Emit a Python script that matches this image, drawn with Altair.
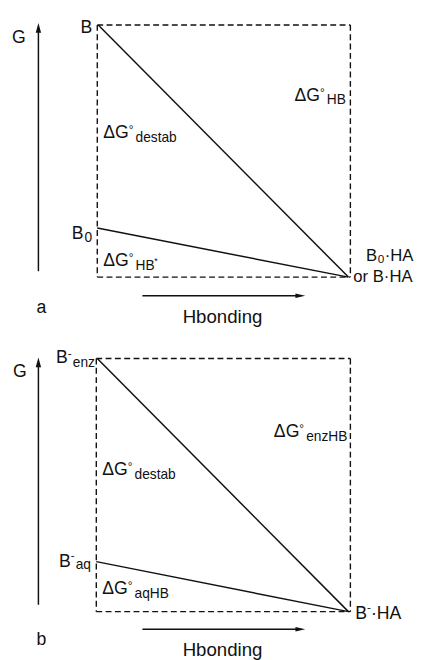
import altair as alt
import pandas as pd

# ---- diagram geometry (picture coordinates, y downward) ----
panel = ["a", "b"]
box_left = [99, 98]
box_top = [19, 359]
box_right = [357, 357]
box_bottom = [276, 617]
high_level = [19, 359]      # B / B-enz
low_level = [226, 566]      # B0 / B-aq
end_x = [355, 355]
g_axis_x = [39, 39]
g_axis_bottom = [270, 610]
g_axis_tip = [17, 358]
hb_axis_y = [295, 635]
hb_axis_x0 = [145, 145]
hb_axis_tip = [312, 312]

# ---- labels: text, x, baseline y, font size ----
lab_text = [
    "G", "B", "ΔG", "°", "destab", "B", "0", "ΔG", "°", "HB", "*",
    "ΔG", "°", "HB", "B", "0", "·HA", "or B·HA", "a", "Hbonding",
    "G", "B", "-", "enz", "ΔG", "°", "destab", "B", "-", "aq", "ΔG", "°", "aqHB",
    "ΔG", "°", "enzHB", "B", "-", "·HA", "b", "Hbonding",
]
lab_x = [
    12, 82, 105, 131, 138, 73, 86, 105, 131, 138, 157,
    300, 326, 333, 373, 385, 392, 360, 37, 186,
    13, 57, 69, 74, 104, 130, 137, 60, 72, 77, 104, 130, 137,
    279, 305, 312, 362, 374, 378, 37, 186,
]
lab_y = [
    37, 27, 134, 129, 138, 237, 240, 265, 260, 269, 263,
    96, 91, 100, 260, 262, 260, 281, 313, 323,
    378, 364, 357, 368, 478, 473, 482, 571, 563, 574, 599, 594, 603,
    439, 434, 443, 624, 616, 624, 651, 662,
]
lab_size = [
    18, 18, 18, 12, 14, 18, 14, 18, 12, 14, 9,
    18, 12, 14, 17, 12, 17, 17, 18, 19,
    18, 18, 12, 14, 18, 12, 14, 18, 12, 14, 18, 12, 14,
    18, 12, 14, 18, 12, 18, 18, 19,
]

# ---- build tables ----
dash_rows, solid_rows, head_up, head_right = [], [], [], []
for i in range(2):
    L, T, R, B = box_left[i], box_top[i], box_right[i], box_bottom[i]
    dash_rows += [
        dict(x=L, y=T, x2=R, y2=T), dict(x=L, y=T, x2=L, y2=B),
        dict(x=R, y=T, x2=R, y2=B), dict(x=L, y=B, x2=R, y2=B),
    ]
    solid_rows += [
        dict(x=L + 1, y=high_level[i], x2=end_x[i], y2=B),
        dict(x=L, y=low_level[i], x2=end_x[i], y2=B),
        dict(x=g_axis_x[i], y=g_axis_bottom[i], x2=g_axis_x[i], y2=g_axis_tip[i] + 6),
        dict(x=hb_axis_x0[i], y=hb_axis_y[i], x2=hb_axis_tip[i] - 8, y2=hb_axis_y[i]),
    ]
    head_up.append(dict(x=g_axis_x[i], y=g_axis_tip[i] + 5))
    head_right.append(dict(x=hb_axis_tip[i] - 6, y=hb_axis_y[i]))

dash_df = pd.DataFrame(dash_rows)
solid_df = pd.DataFrame(solid_rows)
up_df = pd.DataFrame(head_up)
right_df = pd.DataFrame(head_right)
lab_df = pd.DataFrame(dict(text=lab_text, x=lab_x, y=lab_y, size=lab_size))

xs = alt.Scale(domain=[8, 430], zero=False, nice=False)
ys = alt.Scale(domain=[8, 660], zero=False, nice=False, reverse=True)
X = alt.X("x:Q", scale=xs, axis=None)
Y = alt.Y("y:Q", scale=ys, axis=None)

ink = "#111111"

dashed = alt.Chart(dash_df).mark_rule(color=ink, strokeWidth=1.4, strokeDash=[6, 3.5]).encode(
    x=X, y=Y, x2="x2:Q", y2="y2:Q")
solid = alt.Chart(solid_df).mark_rule(color=ink, strokeWidth=1.5).encode(
    x=X, y=Y, x2="x2:Q", y2="y2:Q")
arrow_up = alt.Chart(up_df).mark_point(
    shape="M0,-1L0.55,1L-0.55,1Z", filled=True, opacity=1, color=ink, size=100, strokeWidth=0
).encode(x=X, y=Y)
arrow_right = alt.Chart(right_df).mark_point(
    shape="M1,0L-1,0.45L-1,-0.45Z", filled=True, opacity=1, color=ink, size=100, strokeWidth=0
).encode(x=X, y=Y)
labels = alt.Chart(lab_df).mark_text(
    align="left", baseline="alphabetic", font="Liberation Sans", color=ink
).encode(x=X, y=Y, text="text:N", size=alt.Size("size:Q", scale=None))

chart = alt.layer(dashed, solid, arrow_up, arrow_right, labels).properties(
    width=422, height=652, autosize=alt.AutoSizeParams(type="none"), padding=0
).configure_view(stroke=None)

chart.save("out.html", embed_options={"renderer": "svg", "actions": False})
